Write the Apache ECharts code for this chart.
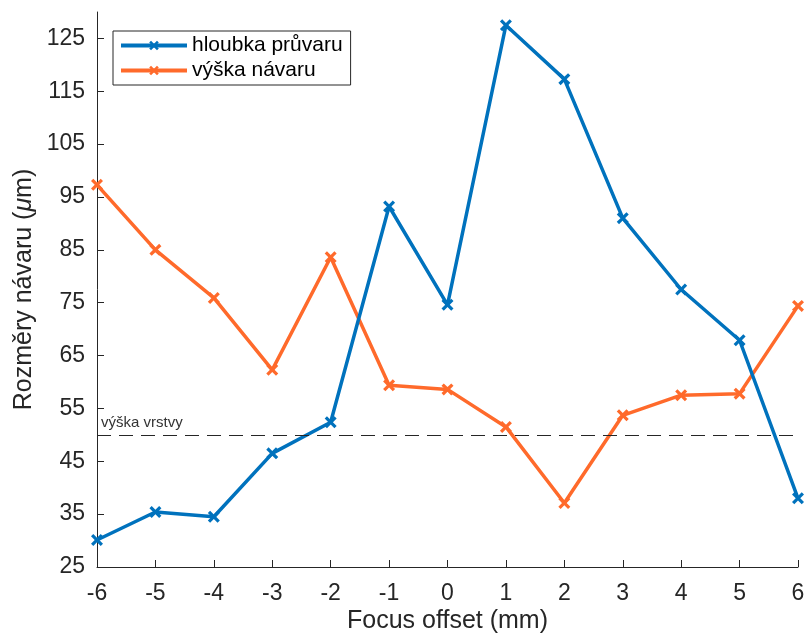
<!DOCTYPE html>
<html>
<head>
<meta charset="utf-8">
<script src="https://cdn.jsdelivr.net/npm/echarts@6/dist/echarts.min.js"></script>
<style>html,body{margin:0;padding:0;background:#fff}#c{width:808px;height:633px}</style>
</head>
<body>
<div id="c"></div>
<script>
const xValues = [-6, -5, -4, -3, -2, -1, 0, 1, 2, 3, 4, 5, 6];
const hloubka = [30.1, 35.4, 34.5, 46.5, 52.4, 93.2, 74.6, 127.5, 117.3, 91.0, 77.5, 67.9, 38.0];
const vyska = [97.3, 85.0, 75.9, 62.3, 83.6, 59.4, 58.6, 51.5, 37.1, 53.7, 57.5, 57.8, 74.4];
const vrstva = 50;
const yTicks = [25, 35, 45, 55, 65, 75, 85, 95, 105, 115, 125];
const xTicks = [-6, -5, -4, -3, -2, -1, 0, 1, 2, 3, 4, 5, 6];
const seriesNames = ['hloubka průvaru', 'výška návaru'];

const xMark = 'path://M0,1.9 L1.9,0 L5,3.1 L8.1,0 L10,1.9 L6.9,5 L10,8.1 L8.1,10 L5,6.9 L1.9,10 L0,8.1 L3.1,5 Z';
const axisColor = '#262626';
const font = '"Liberation Sans", Arial, sans-serif';

const chart = echarts.init(document.getElementById('c'));
chart.setOption({
  animation: false,
  textStyle: { fontFamily: font },
  grid: { left: 97, right: 10, top: 12, bottom: 66, containLabel: false, outerBoundsMode: 'none' },
  legend: {
    left: 113, top: 31,
    orient: 'vertical',
    data: seriesNames,
    itemWidth: 66, itemHeight: 12, itemGap: 4,
    padding: [4, 8, 4, 6],
    borderColor: '#262626', borderWidth: 1,
    backgroundColor: '#fff',
    lineStyle: { width: 4 },
    textStyle: { fontSize: 21, color: '#000', fontFamily: font }
  },
  xAxis: {
    type: 'value', min: -6, max: 6, interval: 1,
    name: 'Focus offset (mm)', nameLocation: 'middle', nameGap: 42, nameMoveOverlap: false,
    nameTextStyle: { fontSize: 25, color: axisColor, verticalAlign: 'top' },
    axisLine: { onZero: false, lineStyle: { color: axisColor, width: 1 } },
    axisTick: { inside: true, length: 7, lineStyle: { color: axisColor }, customValues: xTicks },
    axisLabel: { fontSize: 23, color: axisColor, margin: 15, customValues: xTicks },
    splitLine: { show: false }
  },
  yAxis: {
    type: 'value', min: 25, max: 130,
    name: 'Rozměry návaru ({i|μ}m)', nameLocation: 'middle', nameGap: 60, nameMoveOverlap: false,
    nameTextStyle: { fontSize: 25, color: axisColor, rich: { i: { fontStyle: 'italic', fontSize: 25, color: axisColor } } },
    axisLine: { show: true, onZero: false, lineStyle: { color: axisColor, width: 1 } },
    axisTick: { show: true, inside: true, length: 7, lineStyle: { color: axisColor }, customValues: yTicks },
    axisLabel: { fontSize: 23, color: axisColor, margin: 12, customValues: yTicks },
    splitLine: { show: false }
  },
  series: [
    {
      name: seriesNames[0], type: 'line',
      data: xValues.map((x, i) => [x, hloubka[i]]),
      symbol: xMark, symbolSize: 12,
      lineStyle: { color: '#0072BD', width: 3.5 },
      itemStyle: { color: '#0072BD' },
      z: 3,
      markLine: {
        silent: true, symbol: 'none',
        lineStyle: { type: [14, 8], color: '#262626', width: 1 },
        label: { show: true, position: 'insideStartTop', formatter: 'výška vrstvy', fontSize: 15, color: '#333', distance: [4, 4] },
        data: [{ yAxis: vrstva }]
      }
    },
    {
      name: seriesNames[1], type: 'line',
      data: xValues.map((x, i) => [x, vyska[i]]),
      symbol: xMark, symbolSize: 12,
      lineStyle: { color: '#FF6A2B', width: 3.5 },
      itemStyle: { color: '#FF6A2B' },
      z: 2
    }
  ]
});
</script>
</body>
</html>
